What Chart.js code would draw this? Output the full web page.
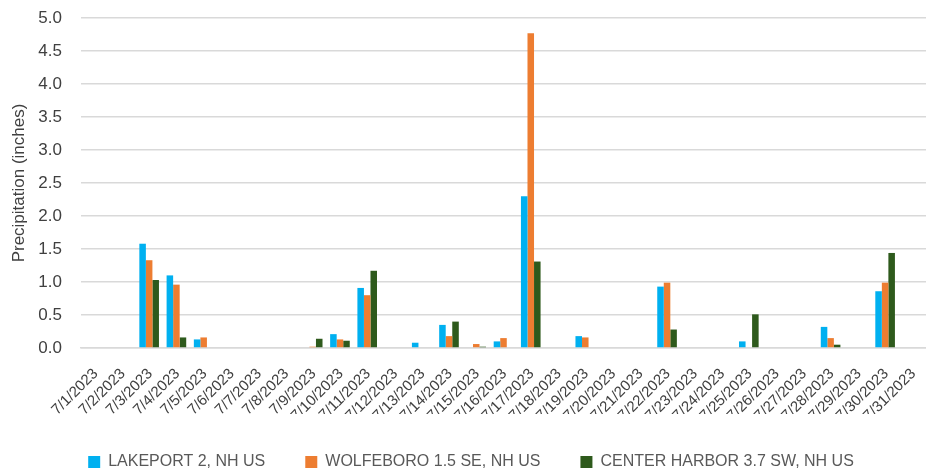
<!DOCTYPE html>
<html lang="en">
<head>
  <meta charset="UTF-8"/>
  <title>July 2023 Precipitation</title>
  <script src="https://cdn.jsdelivr.net/npm/chart.js"></script>
  <style>
    body {
      margin: 0;
      padding: 0;
      background: #fff;
    }
    .chart-box {
      width: 926px;
      height: 472px;
    }
  </style>
</head>
<body>

<div class="chart-box">
  <canvas id="precipChart"></canvas>
</div>

<script>
  // dates 7/1/2023 .. 7/31/2023
  const days = [
    "7/1/2023", "7/2/2023", "7/3/2023", "7/4/2023", "7/5/2023", "7/6/2023", "7/7/2023",
    "7/8/2023", "7/9/2023", "7/10/2023", "7/11/2023", "7/12/2023", "7/13/2023", "7/14/2023",
    "7/15/2023", "7/16/2023", "7/17/2023", "7/18/2023", "7/19/2023", "7/20/2023", "7/21/2023",
    "7/22/2023", "7/23/2023", "7/24/2023", "7/25/2023", "7/26/2023", "7/27/2023", "7/28/2023",
    "7/29/2023", "7/30/2023", "7/31/2023"
  ];

  const lakeport = [
    0, 0, 1.58, 1.10, 0.13, 0, 0, 0, 0, 0.21, 0.91, 0, 0.08, 0.35, 0, 0.10,
    2.30, 0, 0.18, 0, 0, 0.93, 0, 0, 0.10, 0, 0, 0.32, 0, 0.86, 0
  ];
  const wolfeboro = [
    0, 0, 1.33, 0.96, 0.16, 0, 0, 0, 0.02, 0.13, 0.80, 0, 0, 0.18, 0.06, 0.15,
    4.77, 0, 0.16, 0, 0, 0.99, 0, 0, 0, 0, 0, 0.15, 0, 0.99, 0
  ];
  const centerHarbor = [
    0, 0, 1.03, 0.16, 0, 0, 0, 0, 0.14, 0.11, 1.17, 0, 0, 0.40, 0.02, 0,
    1.31, 0, 0, 0, 0, 0.28, 0, 0, 0.51, 0, 0, 0.05, 0, 1.44, 0
  ];

  const yTicks = [0, 0.5, 1, 1.5, 2, 2.5, 3, 3.5, 4, 4.5, 5];

  const fontFamily = "'Liberation Sans', Arial, sans-serif";

  // legend keeps its item spacing but takes less height, and sits a bit right
  const legendTweak = {
    id: "legendTweak",
    beforeInit(chart) {
      const lg = chart.legend;
      const fit = lg.fit;
      lg.fit = function () {
        fit.call(lg);
        this.height = 58;
      };
      const draw = lg.draw;
      lg.draw = function () {
        this.left += 5;
        this.right += 5;
        draw.call(lg);
        this.left -= 5;
        this.right -= 5;
      };
    }
  };

  function drawChart() {
    const ctx = document.getElementById("precipChart").getContext("2d");
    new Chart(ctx, {
      type: "bar",
      data: {
        labels: days,
        datasets: [
          { label: "LAKEPORT 2, NH US", data: lakeport, backgroundColor: "#00B0F0" },
          { label: "WOLFEBORO 1.5 SE, NH US", data: wolfeboro, backgroundColor: "#ED7D31" },
          { label: "CENTER HARBOR 3.7 SW, NH US", data: centerHarbor, backgroundColor: "#2E5A1C" }
        ]
      },
      options: {
        responsive: true,
        maintainAspectRatio: false,
        animation: false,
        datasets: {
          bar: { categoryPercentage: 0.72, barPercentage: 1.0 }
        },
        // plot runs slightly past the right edge, as in the cropped original
        layout: { padding: { left: 0, right: -6, top: 0, bottom: 0 } },
        scales: {
          x: {
            grid: { display: false },
            border: { color: "#d9d9d9", width: 1.5 },
            ticks: {
              color: "#404040",
              font: { family: fontFamily, size: 15 },
              minRotation: 45,
              maxRotation: 45,
              autoSkip: false,
              padding: 9,
              labelOffset: 1
            },
            afterFit: (scale) => {
              scale.height = 66;
              scale.paddingLeft = 0;
              scale.paddingRight = 0;
            }
          },
          y: {
            min: 0,
            max: 5,
            afterBuildTicks: (scale) => { scale.ticks = yTicks.map(v => ({ value: v })); },
            afterFit: (scale) => {
              scale.width = 81;
              scale.paddingTop = 18;
              scale.paddingBottom = 0;
            },
            grid: { color: "#d9d9d9", lineWidth: 1.5, drawTicks: false },
            border: { display: false },
            ticks: {
              color: "#404040",
              font: { family: fontFamily, size: 17 },
              padding: 19,
              callback: (v) => Number(v).toFixed(1)
            },
            title: {
              display: true,
              text: "Precipitation (inches)",
              color: "#404040",
              font: { family: fontFamily, size: 17 },
              padding: { top: 9, bottom: 0 }
            }
          }
        },
        plugins: {
          legend: {
            position: "bottom",
            labels: {
              color: "#595959",
              font: { family: fontFamily, size: 16 },
              boxWidth: 12,
              boxHeight: 12,
              padding: 40
            }
          },
          tooltip: { enabled: false }
        }
      },
      plugins: [legendTweak]
    });
  }

  window.onload = drawChart;
</script>

</body>
</html>
